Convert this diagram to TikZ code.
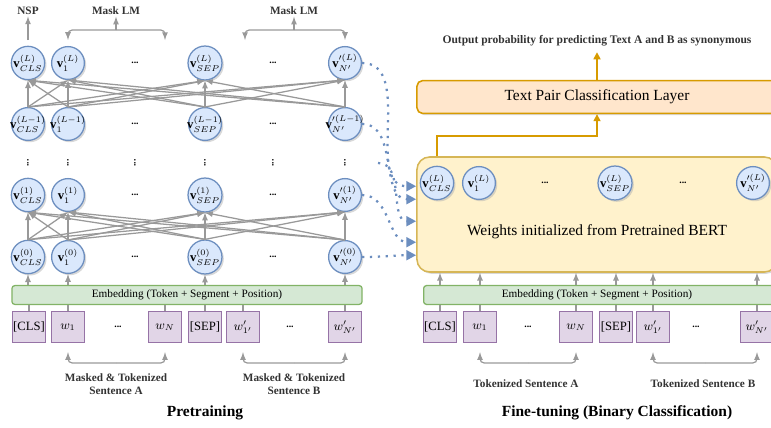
\documentclass[tikz,border=0pt]{standalone}
\usepackage{fontspec}
\setmainfont{Liberation Serif}
\usepackage{tikz}
\usetikzlibrary{positioning}
\usetikzlibrary{arrows.meta}
\usetikzlibrary{calc}
\usetikzlibrary{shadows}

\definecolor{vecfill}{HTML}{DAE8FC}
\definecolor{vecdraw}{HTML}{6C8EBF}
\definecolor{tokfill}{HTML}{E1D5E7}
\definecolor{tokdraw}{HTML}{9673A6}
\definecolor{embfill}{HTML}{D5E8D4}
\definecolor{embdraw}{HTML}{82B366}
\definecolor{bertfill}{HTML}{FFF2CC}
\definecolor{bertdraw}{HTML}{D6B656}
\definecolor{clsfill}{HTML}{FFE6CC}
\definecolor{clsdraw}{HTML}{D79B00}
\definecolor{linegray}{HTML}{999999}
\definecolor{labelgray}{HTML}{333333}

\begin{document}
\begin{tikzpicture}[x=0.025cm, y=-0.025cm,
    vecnode/.style={circle, draw=vecdraw, fill=vecfill, line width=0.9pt, minimum size=0.82cm, inner sep=0pt, font=\small, drop shadow={shadow xshift=1.3pt, shadow yshift=-1.3pt, fill=black!30}},
    toknode/.style={rectangle, draw=tokdraw, fill=tokfill, line width=0.9pt, minimum width=0.82cm, minimum height=0.78cm, inner sep=0pt, font=\small},
    embnode/.style={rectangle, rounded corners=2pt, draw=embdraw, fill=embfill, line width=0.9pt, minimum height=0.47cm, inner sep=0pt, font=\footnotesize},
    hdots/.style={font=\scriptsize\bfseries, inner sep=0pt},
    vdotnode/.style={font=\scriptsize\bfseries, inner sep=0pt, rotate=90},
    tagnode/.style={font=\footnotesize\bfseries, text=labelgray, align=center, inner sep=1pt},
    titlenode/.style={font=\fontsize{11}{13}\selectfont\bfseries},
    garrow/.style={draw=linegray, line width=0.9pt, -latex},
    gline/.style={draw=linegray, line width=0.9pt},
    dotarrow/.style={draw=vecdraw, line width=1.6pt, dash pattern=on 1.6pt off 4pt, -{Triangle[length=7pt,width=7pt]}},
    oarrow/.style={draw=clsdraw, line width=1.1pt, -{Triangle[length=5pt,width=5pt]}}
]
    \useasboundingbox (0,0) rectangle (771,428);
    \clip (0,0) rectangle (771,428);

    % pretraining: layer L
    \node[vecnode] (T1) at (28,63) {$\mathbf{v}^{(L)}_{CLS}$};
    \node[vecnode] (T2) at (68,63) {$\mathbf{v}^{(L)}_{1}$};
    \node[hdots] (TD1) at (135,63) {...};
    \node[vecnode] (T3) at (205,63) {$\mathbf{v}^{(L)}_{SEP}$};
    \node[hdots] (TD2) at (273,63) {...};
    \node[vecnode] (T4) at (345,63) {$\mathbf{v}'^{(L)}_{N'}$};

    % layer L-1
    \node[vecnode] (S1) at (28,124) {\makebox[0pt]{$\mathbf{v}^{(L-1)}_{CLS}$}};
    \node[vecnode] (S2) at (68,124) {\makebox[0pt]{$\mathbf{v}^{(L-1)}_{1}$}};
    \node[hdots] (SD1) at (135,124) {...};
    \node[vecnode] (S3) at (205,124) {\makebox[0pt]{$\mathbf{v}^{(L-1)}_{SEP}$}};
    \node[hdots] (SD2) at (273,124) {...};
    \node[vecnode] (S4) at (345,124) {\makebox[0pt]{$\mathbf{v}'^{(L-1)}_{N'}$}};

    % vertical dots
    \node[vdotnode] (V1) at (28,163) {...};
    \node[vdotnode] (V2) at (68,163) {...};
    \node[vdotnode] (V3) at (135,163) {...};
    \node[vdotnode] (V4) at (205,163) {...};
    \node[vdotnode] (V5) at (273,163) {...};
    \node[vdotnode] (V6) at (345,163) {...};

    % layer 1
    \node[vecnode] (R1) at (28,195) {$\mathbf{v}^{(1)}_{CLS}$};
    \node[vecnode] (R2) at (68,195) {$\mathbf{v}^{(1)}_{1}$};
    \node[hdots] (RD1) at (135,195) {...};
    \node[vecnode] (R3) at (205,195) {$\mathbf{v}^{(1)}_{SEP}$};
    \node[hdots] (RD2) at (273,195) {...};
    \node[vecnode] (R4) at (345,195) {$\mathbf{v}'^{(1)}_{N'}$};

    % layer 0
    \node[vecnode] (Z1) at (28,257) {$\mathbf{v}^{(0)}_{CLS}$};
    \node[vecnode] (Z2) at (68,257) {$\mathbf{v}^{(0)}_{1}$};
    \node[hdots] (ZD1) at (135,257) {...};
    \node[vecnode] (Z3) at (205,257) {$\mathbf{v}^{(0)}_{SEP}$};
    \node[hdots] (ZD2) at (273,257) {...};
    \node[vecnode] (Z4) at (345,257) {$\mathbf{v}'^{(0)}_{N'}$};

    \foreach \i in {1,...,4} {
        \foreach \j in {1,...,4} {
            \draw[garrow] (S\i.north) -- (T\j.south);
            \draw[garrow] (Z\i.north) -- (R\j.south);
        }
    }

    % embedding + tokens
    \node[embnode, minimum width=8.75cm] (E1) at (187,295) {Embedding (Token + Segment + Position)};
    \node[toknode] (K1) at (29,327) {[CLS]};
    \node[toknode] (K2) at (68,327) {$w_1$};
    \node[hdots] (KD1) at (118,327) {...};
    \node[toknode] (K3) at (165,327) {$w_N$};
    \node[toknode] (K4) at (205,327) {[SEP]};
    \node[toknode] (K5) at (243,327) {$w'_{1'}$};
    \node[hdots] (KD2) at (290,327) {...};
    \node[toknode] (K6) at (345,327) {$w'_{N'}$};

    \draw[gline] (K1.north) -- (K1 |- E1.south);
    \draw[gline] (K2.north) -- (K2 |- E1.south);
    \draw[gline] (K3.north) -- (K3 |- E1.south);
    \draw[gline] (K4.north) -- (K4 |- E1.south);
    \draw[gline] (K5.north) -- (K5 |- E1.south);
    \draw[gline] (K6.north) -- (K6 |- E1.south);

    \draw[garrow] (Z1 |- E1.north) -- (Z1.south);
    \draw[garrow] (Z2 |- E1.north) -- (Z2.south);
    \draw[garrow] (Z3 |- E1.north) -- (Z3.south);
    \draw[garrow] (Z4 |- E1.north) -- (Z4.south);

    % NSP and Mask LM
    \node[tagnode] (NSP) at (28,11) {NSP};
    \draw[garrow, shorten <=4pt] (T1.north) -- (NSP.south);

    \node[tagnode] (ML1) at (116,11) {Mask LM};
    \node[tagnode] (ML2) at (294,11) {Mask LM};
    \coordinate (MA) at (116,30);
    \coordinate (MB) at (294,30);
    \draw[garrow] (MA) -- (ML1.south);
    \draw[garrow, rounded corners=3pt] (MA) -| ($(T2.north)+(0,-6)$);
    \draw[garrow, rounded corners=3pt] (MA) -| (165,40);
    \draw[garrow] (MB) -- (ML2.south);
    \draw[garrow, rounded corners=3pt] (MB) -| (245,40);
    \draw[garrow, rounded corners=3pt] (MB) -| ($(T4.north)+(0,-6)$);

    % sentence brackets
    \coordinate (SA) at (116,363);
    \coordinate (SB) at (294,363);
    \draw[garrow, rounded corners=3pt] (SA) -| ($(K2.south)+(0,9)$);
    \draw[garrow, rounded corners=3pt] (SA) -| ($(K3.south)+(0,9)$);
    \draw[garrow, rounded corners=3pt] (SB) -| ($(K5.south)+(0,9)$);
    \draw[garrow, rounded corners=3pt] (SB) -| ($(K6.south)+(0,9)$);
    \node[tagnode] (LA) at (116,384) {Masked \& Tokenized\\Sentence A};
    \node[tagnode] (LB) at (294,384) {Masked \& Tokenized\\Sentence B};

    \node[titlenode] (PT) at (205,413) {Pretraining};

    % fine-tuning
    \node[rectangle, rounded corners=4pt, draw=clsdraw, fill=clsfill, line width=1.1pt, minimum width=9cm, minimum height=0.82cm, font=\fontsize{11}{13}\selectfont, drop shadow={shadow xshift=1.3pt, shadow yshift=-1.3pt, fill=black!30}] (C) at (597,97) {Text Pair Classification Layer};
    \node[tagnode, font=\fontsize{8.2}{10}\selectfont\bfseries] (O) at (597,41) {Output probability for predicting Text A and B as synonymous};
    \draw[oarrow, shorten >=3pt] (C.north) -- (O.south);

    \node[rectangle, rounded corners=9pt, draw=bertdraw, fill=bertfill, line width=1.1pt, minimum width=9cm, minimum height=2.875cm, drop shadow={shadow xshift=1.3pt, shadow yshift=-1.3pt, fill=black!30}] (B) at (597,214.5) {};
    \node[font=\fontsize{11}{13}\selectfont] (W) at (597,232) {Weights initialized from Pretrained BERT};

    \node[vecnode] (F1) at (437,183) {$\mathbf{v}^{(L)}_{CLS}$};
    \node[vecnode] (F2) at (479,183) {$\mathbf{v}^{(L)}_{1}$};
    \node[hdots] (FD1) at (545,183) {...};
    \node[vecnode] (F3) at (615,183) {$\mathbf{v}^{(L)}_{SEP}$};
    \node[hdots] (FD2) at (683,183) {...};
    \node[vecnode] (F4) at (753,183) {$\mathbf{v}'^{(L)}_{N'}$};

    \draw[oarrow] (F1 |- B.north) -- ++(0,-20) -| (C.south);

    \node[embnode, minimum width=9cm, anchor=west] (E2) at (423,295) {};
    \node[font=\footnotesize] (ET) at (597,295) {Embedding (Token + Segment + Position)};
    \node[toknode] (G1) at (440,327) {[CLS]};
    \node[toknode] (G2) at (480,327) {$w_1$};
    \node[hdots] (GD1) at (528,327) {...};
    \node[toknode] (G3) at (576,327) {$w_N$};
    \node[toknode] (G4) at (616,327) {[SEP]};
    \node[toknode] (G5) at (653,327) {$w'_{1'}$};
    \node[hdots] (GD2) at (696,327) {...};
    \node[toknode] (G6) at (757,327) {$w'_{N'}$};

    \draw[gline] (G1.north) -- (G1 |- E2.south);
    \draw[gline] (G2.north) -- (G2 |- E2.south);
    \draw[gline] (G3.north) -- (G3 |- E2.south);
    \draw[gline] (G4.north) -- (G4 |- E2.south);
    \draw[gline] (G5.north) -- (G5 |- E2.south);
    \draw[gline] (G6.north) -- (G6 |- E2.south);

    \draw[garrow] (G1 |- E2.north) -- (G1 |- B.south);
    \draw[garrow] (G2 |- E2.north) -- (G2 |- B.south);
    \draw[garrow] (G3 |- E2.north) -- (G3 |- B.south);
    \draw[garrow] (G4 |- E2.north) -- (G4 |- B.south);
    \draw[garrow] (G5 |- E2.north) -- (G5 |- B.south);
    \draw[garrow] (G6 |- E2.north) -- (G6 |- B.south);

    \coordinate (SC) at (528,363);
    \coordinate (SD) at (705,363);
    \draw[garrow, rounded corners=3pt] (SC) -| ($(G2.south)+(0,9)$);
    \draw[garrow, rounded corners=3pt] (SC) -| ($(G3.south)+(0,9)$);
    \draw[garrow, rounded corners=3pt] (SD) -| ($(G5.south)+(0,9)$);
    \draw[garrow, rounded corners=3pt] (SD) -| ($(G6.south)+(0,9)$);
    \node[tagnode] (RA) at (526,384) {Tokenized Sentence A};
    \node[tagnode] (RB) at (703,384) {Tokenized Sentence B};

    \node[titlenode] (FT) at (617,413) {Fine-tuning (Binary Classification)};

    % weights carried over
    \coordinate (VD) at (378,163);
    \draw[dotarrow] (T4.east) to[out=0, in=180] ($(B.north west)+(0,30)$);
    \draw[dotarrow] (S4.east) to[out=0, in=180] ($(B.north west)+(0,43)$);
    \draw[dotarrow] (VD) to[out=0, in=180] ($(B.north west)+(0,65)$);
    \draw[dotarrow] (R4.east) to[out=0, in=180] ($(B.north west)+(0,86)$);
    \draw[dotarrow] (Z4.east) to[out=0, in=180] ($(B.north west)+(0,99)$);

\end{tikzpicture}
\end{document}
